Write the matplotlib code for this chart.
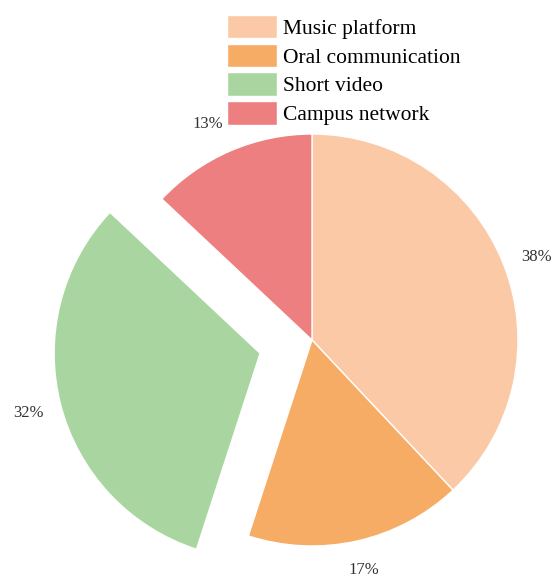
import matplotlib
matplotlib.use("Agg")
import matplotlib.pyplot as plt

# Share of information channels
categories = ["Music platform", "Oral communication", "Short video", "Campus network"]
shares = [38, 17, 32, 13]
colors = ["#FBC9A6", "#F6AC64", "#A9D6A0", "#EE7F81"]
explode = [0, 0, 0.26, 0]

plt.rcParams["font.family"] = ["Liberation Serif", "DejaVu Serif"]

W, H, DPI = 552, 579, 100
fig = plt.figure(figsize=(W / DPI, H / DPI), dpi=DPI)
ax = fig.add_axes([0, 0, 1, 1])

wedges, texts, autotexts = ax.pie(
    shares,
    colors=colors,
    explode=explode,
    startangle=90,
    counterclock=False,
    autopct="%d%%",
    pctdistance=1.16,
    wedgeprops=dict(edgecolor="white", linewidth=1.0),
    textprops=dict(color="#333333", fontsize=12),
)

# pie centre at (312, 340) px, radius 206 px
cx, cy, r = 312, 340, 206
ax.set_xlim(-cx / r, (W - cx) / r)
ax.set_ylim(-(H - cy) / r, cy / r)
ax.set_aspect("equal", adjustable="datalim")
ax.axis("off")

# small nudges (in pixels) so the percentage labels clear the legend and the edge
nudges = {0: (2, -5), 1: (0, 3), 3: (-9, -3)}
for i, (dx, dy) in nudges.items():
    x, y = autotexts[i].get_position()
    autotexts[i].set_position((x + dx / r, y + dy / r))

leg = fig.legend(
    wedges, categories,
    loc="upper left",
    bbox_to_anchor=(227 / W, 1 - 15 / H),
    frameon=False,
    fontsize=15.5,
    handlelength=2.3,
    handleheight=1.3,
    handletextpad=0.3,
    labelspacing=0.22,
    borderpad=0,
    borderaxespad=0,
)

fig.savefig("out.png", dpi=DPI, facecolor="white")
